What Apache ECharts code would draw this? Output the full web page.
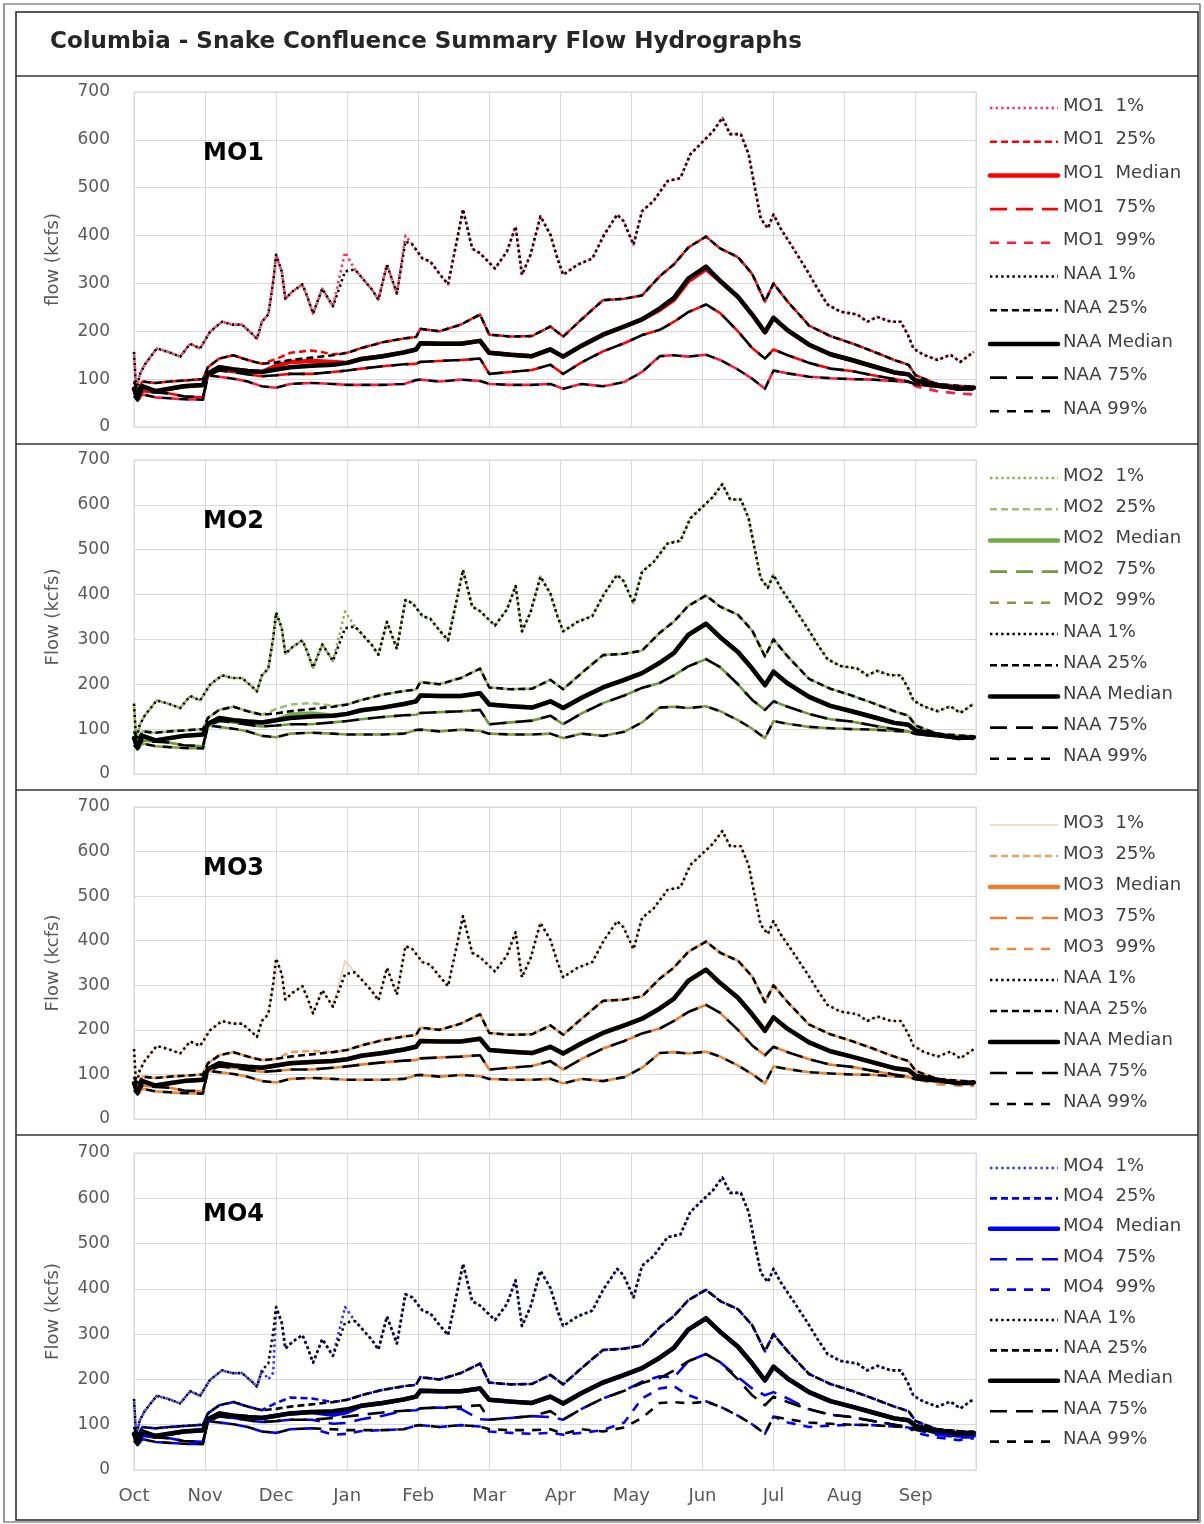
<!DOCTYPE html>
<html><head><meta charset="utf-8">
<script src="https://cdn.jsdelivr.net/npm/echarts/dist/echarts.min.js"></script>
<style>html,body{margin:0;padding:0;background:#fff}#c{width:1204px;height:1524px}</style>
</head><body><div id="c"></div>
<script>
// ---- axis categories ----
const months = ['Oct','Nov','Dec','Jan','Feb','Mar','Apr','May','Jun','Jul','Aug','Sep'];
const yTicks = [0,100,200,300,400,500,600,700];
const pctNames = ['1%','25%','Median','75%','99%'];

// ---- x positions (months since Oct 1) ----
const x1 = [0,0.03,0.08,0.15,0.32,0.48,0.65,0.79,0.93,1.07,1.24,1.38,1.52,1.66,1.73,1.80,1.89,1.96,2.00,2.08,2.13,2.23,2.37,2.44,2.52,2.65,2.80,2.97,3.11,3.35,3.44,3.56,3.70,3.82,3.92,4.06,4.17,4.31,4.42,4.55,4.63,4.76,4.87,5.08,5.25,5.37,5.46,5.58,5.72,5.86,5.96,6.04,6.24,6.45,6.61,6.80,6.89,7.03,7.15,7.31,7.51,7.69,7.83,7.97,8.15,8.28,8.39,8.54,8.65,8.72,8.82,8.92,9.00,9.10,9.28,9.48,9.62,9.76,9.94,10.18,10.32,10.46,10.65,10.79,10.89,10.97,11.11,11.31,11.49,11.63,11.82];
const xs = [0,0.05,0.12,0.3,0.5,0.7,0.97,1.04,1.2,1.4,1.6,1.8,2.0,2.2,2.5,2.8,3.0,3.2,3.5,3.8,3.97,4.03,4.3,4.6,4.87,5.0,5.3,5.6,5.86,6.04,6.3,6.6,6.9,7.15,7.4,7.6,7.8,8.05,8.25,8.5,8.7,8.88,9.0,9.2,9.5,9.8,10.1,10.4,10.7,10.9,11.0,11.3,11.6,11.82];

// ---- NAA (kcfs) ----
const NAA_1 = [157,75,109,130,164,157,147,174,164,199,220,214,214,195,184,220,235,304,360,325,268,283,298,272,237,289,252,325,329,287,266,339,279,388,381,352,346,318,298,394,455,373,363,331,367,419,318,360,440,402,352,318,339,352,400,444,430,381,451,472,514,520,570,591,618,646,612,612,570,514,436,415,444,415,373,325,289,256,241,235,220,230,220,220,193,164,151,140,151,136,157];
const NAA_25 = [95,75,95,92,95,97,100,125,143,150,140,132,135,140,145,150,155,165,177,185,188,205,200,214,235,193,189,190,210,189,225,265,268,275,315,340,375,398,373,355,320,262,300,262,212,190,175,158,140,130,108,90,86,84];
const NAA_Med = [80,62,85,75,80,85,88,112,125,120,117,115,120,125,128,130,134,142,148,156,162,175,174,174,180,155,151,148,162,147,170,193,210,225,248,270,310,335,305,272,235,198,228,202,172,152,140,127,114,110,97,88,80,82];
const NAA_75 = [72,58,75,72,70,64,62,108,118,115,110,106,108,111,111,115,118,122,127,131,132,136,138,140,143,111,115,119,130,111,135,158,175,192,203,220,240,256,238,200,165,143,162,150,134,122,117,108,100,95,89,84,80,78];
const NAA_99 = [65,55,68,62,60,58,57,108,105,101,95,85,82,90,92,90,88,88,88,90,98,99,95,99,96,90,88,88,90,80,90,85,94,115,148,150,147,151,140,120,101,80,118,112,105,102,100,99,96,94,90,84,82,80];

// ---- MO1 ----
const MO1_1 = [157,75,109,130,164,157,147,174,164,199,220,214,214,195,184,220,235,304,360,325,268,283,298,272,237,289,252,365,329,287,266,339,279,400,381,352,346,318,298,394,455,373,363,331,367,419,318,360,440,402,352,318,339,352,400,444,430,381,451,472,514,520,570,591,618,646,612,612,570,514,436,415,444,415,373,325,289,256,241,235,220,230,220,220,193,164,151,140,151,136,157];
const MO1_25 = [95,75,95,92,95,97,100,125,143,150,140,132,142,155,160,152,155,165,177,185,188,205,200,214,235,193,189,190,210,189,225,265,268,275,315,340,375,398,373,355,320,262,300,262,212,190,175,158,140,130,108,90,86,84];
const MO1_Med = [80,62,85,75,80,85,88,112,125,120,117,115,128,136,138,136,134,142,148,156,162,175,174,174,180,155,151,148,162,147,170,193,210,225,245,266,305,330,305,272,235,198,228,202,172,152,140,127,114,110,97,88,80,82];
const MO1_75 = [72,58,75,72,70,64,62,108,118,115,110,106,108,111,111,115,118,122,127,131,132,136,138,140,143,111,115,119,130,111,135,158,175,192,203,220,240,256,238,200,165,143,162,150,134,122,117,108,100,95,89,84,80,78];
const MO1_99 = [65,55,68,62,60,58,57,108,105,101,95,85,82,90,92,90,88,88,88,90,98,99,95,99,96,90,88,88,90,80,90,85,94,115,148,150,147,151,140,120,101,80,118,112,105,102,100,99,96,94,85,75,70,68];

// ---- MO2 ----
const MO2_1 = [157,75,109,130,164,157,147,174,164,199,220,214,214,195,184,220,235,304,360,325,268,283,298,272,237,289,252,362,329,287,266,339,279,388,381,352,346,318,298,394,455,373,363,331,367,419,318,360,440,402,352,318,339,352,400,444,430,381,451,472,514,520,570,591,618,646,612,612,570,514,436,415,444,415,373,325,289,256,241,235,220,230,220,220,193,164,151,140,151,136,157];
const MO2_25 = [95,75,95,92,95,97,100,125,143,150,140,132,145,155,158,152,155,165,177,185,188,205,200,214,235,193,189,190,210,189,225,265,268,275,315,340,375,398,373,355,320,262,300,262,212,190,175,158,140,130,108,90,86,84];
const MO2_Med = [80,62,85,75,80,85,88,112,125,120,117,115,120,132,135,130,134,142,148,156,162,175,174,174,180,155,151,148,162,147,170,193,210,225,248,270,310,335,305,272,235,198,228,202,172,152,140,127,114,110,97,88,80,82];
const MO2_75 = [72,58,75,72,70,64,62,108,118,115,110,106,108,111,111,115,118,122,127,131,132,136,138,140,143,111,115,119,130,111,135,158,175,192,203,220,240,256,238,200,165,143,162,150,134,122,117,108,100,95,89,84,80,78];
const MO2_99 = [65,55,68,62,60,58,57,108,105,101,95,85,82,90,92,90,88,88,88,90,98,99,95,99,96,90,88,88,90,80,90,85,94,115,148,150,147,151,140,120,101,80,118,112,105,102,100,99,96,94,90,84,82,80];

// ---- MO3 ----
const MO3_1 = [157,75,109,130,164,157,147,174,164,199,220,214,214,195,184,220,235,304,360,325,268,283,298,272,237,289,252,355,329,287,266,339,279,388,381,352,346,318,298,394,455,373,363,331,367,419,318,360,440,402,352,318,339,352,400,444,430,381,451,472,514,520,570,591,618,646,612,612,570,514,436,415,444,415,373,325,289,256,241,235,220,230,220,220,193,164,151,140,151,136,157];
const MO3_25 = [95,75,95,92,95,97,100,125,143,150,140,132,135,150,153,150,155,165,177,185,188,205,200,214,235,193,189,190,210,189,225,265,268,275,315,340,375,398,373,355,320,262,300,262,212,190,175,158,140,130,108,90,86,84];
const MO3_Med = [80,62,85,75,80,85,88,112,125,120,117,115,120,125,128,130,134,142,148,156,162,175,174,174,180,155,151,148,162,147,170,193,210,225,248,270,310,335,305,272,235,198,228,202,172,152,140,127,114,110,97,88,80,82];
const MO3_75 = [72,58,75,72,70,64,62,108,118,115,110,106,108,111,111,115,118,122,127,131,132,136,138,140,143,111,115,119,130,111,135,158,175,192,203,220,240,256,238,200,165,143,162,150,134,122,117,108,100,95,89,84,80,78];
const MO3_99 = [65,55,68,62,60,58,57,108,105,101,95,85,82,90,92,90,88,88,88,90,98,99,95,99,96,90,88,88,90,80,90,85,94,115,148,150,147,151,140,120,101,80,118,112,105,102,100,99,96,94,90,78,75,74];

// ---- MO4 ----
const MO4_1 = [157,75,109,130,164,157,147,174,164,199,220,214,214,195,184,220,200,215,360,325,268,283,298,272,237,289,252,360,329,287,266,339,279,388,381,352,346,318,298,394,455,373,363,331,367,419,318,360,440,402,352,318,339,352,400,444,430,381,451,472,514,520,570,591,618,646,612,612,570,514,436,415,444,415,373,325,289,256,241,235,220,230,220,220,193,164,151,140,151,136,157];
const MO4_25 = [95,75,95,92,95,97,100,125,143,150,140,132,148,160,158,150,155,165,177,185,188,205,200,214,235,193,189,190,210,189,225,265,268,275,315,340,375,398,373,355,320,262,300,262,212,190,175,158,140,130,108,90,86,84];
const MO4_Med = [80,62,85,75,80,85,88,112,125,120,117,115,120,125,128,122,128,142,148,156,162,175,174,174,180,155,151,148,162,147,170,193,210,225,248,270,310,335,305,272,235,198,228,202,172,152,140,127,114,110,97,82,76,76];
const MO4_75 = [72,58,75,72,70,64,62,108,118,115,110,106,108,111,111,102,104,112,120,131,132,136,138,135,112,111,115,119,117,111,135,158,175,195,207,205,240,256,238,205,180,165,172,158,134,122,117,108,100,95,89,78,72,72];
const MO4_99 = [65,55,68,62,60,58,57,108,105,101,95,85,82,90,92,78,80,86,88,90,98,99,95,99,96,85,82,80,82,78,82,88,105,158,180,185,165,152,140,120,101,80,118,105,95,98,100,99,96,94,82,72,66,70];

// ---- panel setup ----
const panels = [
  {tag:'MO1', yName:'flow (kcfs)', top:92, height:335, colors:['#FF3355','#FF0000','#FF0000','#FF0000','#FF1A40'], data:[MO1_1,MO1_25,MO1_Med,MO1_75,MO1_99], legTop:108, legStep:33.7},
  {tag:'MO2', yName:'Flow (kcfs)', top:460, height:314, colors:['#8DB33F','#9BC26B','#70AD47','#6E9C3A','#7F9A3C'], data:[MO2_1,MO2_25,MO2_Med,MO2_75,MO2_99], legTop:478, legStep:31.2},
  {tag:'MO3', yName:'Flow (kcfs)', top:807, height:312, colors:['#F8CBAD','#F0A060','#ED7D31','#ED7D31','#E7883A'], data:[MO3_1,MO3_25,MO3_Med,MO3_75,MO3_99], legTop:825, legStep:31.0},
  {tag:'MO4', yName:'Flow (kcfs)', top:1153, height:317, colors:['#3333FF','#0000FF','#0000FF','#0000FF','#0000FF'], data:[MO4_1,MO4_25,MO4_Med,MO4_75,MO4_99], legTop:1168, legStep:30.4}
];
const NAA = [NAA_1, NAA_25, NAA_Med, NAA_75, NAA_99];
const styles = [
  {type:[2.4,3.2], width:2.6, cap:'butt', off:2.8},
  {type:[7,4], width:2.6, cap:'butt', off:5.5},
  {type:'solid', width:4.5, cap:'round', off:0},
  {type:[17,9], width:2.6, cap:'butt', off:13},
  {type:[9,8], width:2.6, cap:'butt', off:8.5}
];
const FONT = 'DejaVu Sans';

const grids = [], xAxes = [], yAxes = [], series = [], graphics = [];
panels.forEach((p, pi) => {
  grids.push({left:134, width:842, top:p.top, height:p.height, show:true, borderColor:'#d9d9d9', borderWidth:1});
  xAxes.push({type:'value', gridIndex:pi, min:0, max:11.85, interval:1,
    axisLine:{show:false}, axisTick:{show:false},
    splitLine:{show:true, lineStyle:{color:'#d9d9d9', width:1}},
    axisLabel:{show: pi===3, margin:17, color:'#595959', fontSize:18, fontFamily:FONT,
      formatter: v => (Math.abs(v-Math.round(v))<1e-6 && Math.round(v)<12) ? months[Math.round(v)] : ''}});
  yAxes.push({type:'value', gridIndex:pi, min:yTicks[0], max:yTicks[yTicks.length-1], interval:100,
    axisLine:{show:false}, axisTick:{show:false},
    splitLine:{show:true, lineStyle:{color:'#d9d9d9', width:1}},
    axisLabel:{margin:24, color:'#595959', fontSize:17, fontFamily:FONT},
    name:p.yName, nameLocation:'middle', nameGap:72, nameRotate:90,
    nameTextStyle:{color:'#595959', fontSize:18, fontFamily:FONT}});
  const xsFor = k => (k===0 ? x1 : xs);
  // MO series first (underneath), then NAA on top
  for (let k=0;k<5;k++){
    const arr = p.data[k], xx = xsFor(k);
    const faint = (pi===2 && k===0);
    series.push({type:'line', name:p.tag+'  '+pctNames[k], xAxisIndex:pi, yAxisIndex:pi,
      data: xx.map((x,i)=>[x, arr[i]]), symbol:'none', silent:true,
      lineStyle:{color:p.colors[k], width: faint?1.6:styles[k].width,
        type: faint?'solid':styles[k].type, cap:styles[k].cap, join:'round', dashOffset:styles[k].off}});
  }
  for (let k=0;k<5;k++){
    const arr = NAA[k], xx = xsFor(k);
    series.push({type:'line', name:'NAA '+pctNames[k], xAxisIndex:pi, yAxisIndex:pi,
      data: xx.map((x,i)=>[x, arr[i]]), symbol:'none', silent:true,
      lineStyle:{color:'#000000', width:styles[k].width, type:styles[k].type, cap:styles[k].cap, join:'round'}});
  }
  // panel label
  graphics.push({type:'text', left:203, top:p.top + 50, z:10, style:{text:p.tag, font:'bold 24px "'+FONT+'"', fill:'#000'}});
  // legend
  for (let k=0;k<10;k++){
    const y = p.legTop + k*p.legStep;
    const st = styles[k%5];
    const isMO = k<5;
    const col = isMO ? p.colors[k] : '#000';
    let dash = st.type==='solid' ? null : st.type;
    let w = st.width;
    if (isMO && pi===2 && k===0){ dash = null; w = 1.6; }
    graphics.push({type:'line', shape:{x1:990,y1:y,x2:1058,y2:y},
      style:{stroke:col, lineWidth:w, lineDash:dash, lineCap:st.cap}});
    const label = isMO ? (p.tag+'  '+pctNames[k]) : ('NAA '+pctNames[k%5]);
    graphics.push({type:'text', left:1063, top:y-11, style:{text:label, font:'18px "'+FONT+'"', fill:'#404040'}});
  }
});

// frames and title
graphics.push({type:'rect', shape:{x:4,y:4,width:1196,height:1518}, style:{fill:'none', stroke:'#555', lineWidth:1.2}});
graphics.push({type:'rect', shape:{x:16,y:12,width:1182,height:1508}, style:{fill:'none', stroke:'#222', lineWidth:1.5}});
[76, 444, 790, 1135].forEach(y => graphics.push({type:'line', shape:{x1:16,y1:y,x2:1198,y2:y}, style:{stroke:'#333', lineWidth:1.5}}));
graphics.push({type:'text', left:50, top:31, style:{text:'Columbia - Snake Confluence Summary Flow Hydrographs', font:'bold 23px "'+FONT+'"', fill:'#262626'}});

const chart = echarts.init(document.getElementById('c'), null, {renderer:'canvas', width:1204, height:1524});
chart.setOption({
  animation:false, backgroundColor:'#fff',
  grid:grids, xAxis:xAxes, yAxis:yAxes, series:series, graphic:graphics
});
</script></body></html>
